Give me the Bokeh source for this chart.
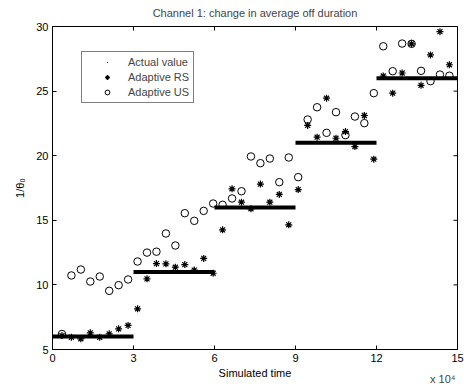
import math
from bokeh.plotting import figure
from bokeh.models import FixedTicker, Legend, LegendItem, Range1d, Title
from bokeh.embed import file_html
from bokeh.resources import INLINE

# ---- data (time in units of 10^4) ----
sim_time = [0.35, 0.70, 1.05, 1.40, 1.75, 2.10, 2.45, 2.80, 3.15, 3.50,
            3.85, 4.20, 4.55, 4.90, 5.25, 5.60, 5.95, 6.30, 6.65, 7.00,
            7.35, 7.70, 8.05, 8.40, 8.75, 9.10, 9.45, 9.80, 10.15, 10.50,
            10.85, 11.20, 11.55, 11.90, 12.25, 12.60, 12.95, 13.30, 13.65, 14.00,
            14.35, 14.70]
adaptive_rs = [6.08, 5.95, 5.83, 6.29, 5.95, 6.21, 6.60, 6.86, 8.15, 10.47,
               11.65, 11.63, 11.37, 11.57, 11.15, 12.05, 10.90, 14.26, 17.44, 16.40,
               15.89, 17.80, 16.40, 17.00, 14.65, 17.38, 22.34, 21.43, 24.45, 21.35,
               21.87, 20.71, 23.11, 19.73, 26.17, 24.84, 26.40, 28.66, 25.45, 27.80,
               29.60, 27.04]
adaptive_us = [6.20, 10.73, 11.19, 10.26, 10.65, 9.54, 9.98, 10.42, 11.81, 12.50,
               12.57, 13.98, 13.05, 15.55, 14.96, 15.73, 16.30, 16.20, 16.69, 17.25,
               19.94, 19.42, 19.78, 17.95, 19.86, 18.34, 22.80, 23.75, 21.77, 23.37,
               21.59, 23.03, 22.52, 24.84, 28.47, 26.54, 28.68, 28.66, 26.57, 25.77,
               26.28, 26.19]
actual_start = [0, 3, 6, 9, 12]
actual_end = [3, 6, 9, 12, 15]
actual_value = [6, 11, 16, 21, 26]
x_ticks = [0, 3, 6, 9, 12, 15]
y_ticks = [5, 10, 15, 20, 25, 30]
x_min, x_max = 0, 15
y_min, y_max = 5, 30

FONT = "Liberation Sans"
FS = "11px"

p = figure(width=464, height=384, x_range=Range1d(x_min, x_max), y_range=Range1d(y_min, y_max),
           output_backend="svg", toolbar_location=None,
           min_border_left=52, min_border_right=7, min_border_top=26, min_border_bottom=35,
           title="Channel 1: change in average off duration")
p.title.align = "center"
p.title.vertical_align = "top"
p.title.standoff = 11
p.title.text_font = FONT
p.title.text_font_size = FS
p.title.text_font_style = "normal"
p.xgrid.visible = False
p.ygrid.visible = False
p.outline_line_color = "black"
p.outline_line_width = 1
p.background_fill_color = "white"
p.border_fill_color = "white"

for ax, ticks in ((p.xaxis[0], x_ticks), (p.yaxis[0], y_ticks)):
    ax.ticker = FixedTicker(ticks=ticks)
    ax.major_tick_in = 4
    ax.major_tick_out = 0
    ax.minor_tick_line_color = None
    ax.axis_line_color = "black"
    ax.major_tick_line_color = "black"
    ax.major_label_text_font = FONT
    ax.major_label_text_font_size = FS
    ax.major_label_text_color = "black"
    ax.major_label_standoff = 4
    ax.axis_label_text_font = FONT
    ax.axis_label_text_font_size = FS
    ax.axis_label_text_font_style = "normal"
    ax.axis_label_text_color = "black"

p.xaxis[0].axis_label = "Simulated time"
p.xaxis[0].axis_label_standoff = 2
p.yaxis[0].axis_label = "1/θ₀"
p.yaxis[0].axis_label_standoff = 7

# exponent note below the axis, right-aligned; negative standoff keeps it from taking space
exp_note = Title(text="x 10⁴", align="right", vertical_align="top", offset=2, standoff=-18,
                 text_font=FONT, text_font_size=FS, text_font_style="normal")
p.add_layout(exp_note, "below")

# tick marks on the top and right edges (half of each dash is clipped by the frame)
p.scatter(x_ticks, [y_max] * len(x_ticks), marker="dash", angle=math.pi / 2, size=8,
          line_color="black", line_width=1)
p.scatter([x_max] * len(y_ticks), y_ticks, marker="dash", size=8,
          line_color="black", line_width=1)

# actual value: thick horizontal runs
p.segment(x0=actual_start, y0=actual_value, x1=actual_end, y1=actual_value,
          line_color="black", line_width=4)
mid = [(a + b) / 2 for a, b in zip(actual_start, actual_end)]
r_act = p.scatter(mid, actual_value, marker="dot", size=6, line_color="black",
                  fill_color="black")
r_rs = p.scatter(sim_time, adaptive_rs, marker="asterisk", size=7, line_color="black",
                 line_width=1.2)
r_us = p.scatter(sim_time, adaptive_us, marker="circle", size=7.5, fill_color=None,
                 line_color="black", line_width=1)

legend = Legend(items=[LegendItem(label="Actual value", renderers=[r_act]),
                       LegendItem(label="Adaptive RS", renderers=[r_rs]),
                       LegendItem(label="Adaptive US", renderers=[r_us])],
                location=(29, 246))
legend.padding = 4
legend.margin = 0
legend.spacing = 3
legend.label_height = 12
legend.glyph_height = 12
legend.glyph_width = 42
legend.label_standoff = 0
legend.label_text_font = FONT
legend.label_text_font_size = FS
legend.border_line_color = "black"
legend.border_line_width = 1
legend.background_fill_alpha = 1
p.add_layout(legend, "center")

open("out.html", "w").write(file_html(p, INLINE))
